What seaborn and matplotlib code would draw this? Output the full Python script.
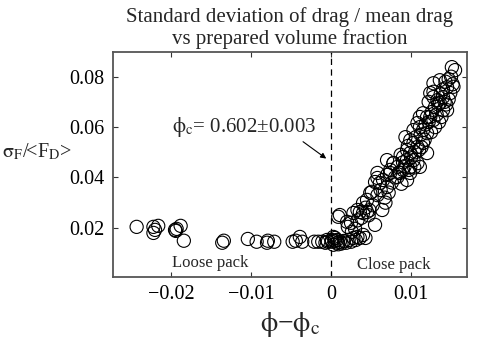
import numpy as np
import pandas as pd
import matplotlib
matplotlib.use("Agg")
import matplotlib.pyplot as plt
import seaborn as sns

# ---- data ----
x_loose = [-0.0243, -0.0222, -0.0220, -0.0222, -0.0216, -0.0195, -0.0194, -0.0188, -0.0193,
           -0.0184, -0.0136, -0.0134, -0.0104, -0.0093, -0.0080, -0.0079, -0.0071,
           -0.0048, -0.0039, -0.0036, -0.0044]
y_loose = [0.0204, 0.0204, 0.0192, 0.0180, 0.0208, 0.0192, 0.0188, 0.0208, 0.0196,
           0.0149, 0.0141, 0.0149, 0.0156, 0.0145, 0.0141, 0.0149, 0.0145,
           0.0145, 0.0164, 0.0145, 0.0149]

x_close = [
    # cluster near phi_c
    -0.0021, -0.0016, -0.0011, -0.0007, -0.0004, 0.0001, 0.0003, 0.0005, 0.0008, -0.0005,
    0.0001, 0.0005, 0.00075, 0.0011, 0.0013, 0.0016, 0.0019, 0.0022, 0.0025, 0.0028,
    0.0031, 0.0033, 0.0036, 0.0040, 0.0043, 0.0003, 0.0009,
    # rising onset
    0.0009, 0.0011, 0.0020, 0.0021, 0.0026, 0.0028, 0.0033, 0.0036, 0.0040, 0.0045,
    0.0040, 0.0045, 0.0049, 0.0051, 0.0055, 0.0030, 0.0033, 0.0038, 0.0043, 0.0048,
    0.0052, 0.0047, 0.0025,
    # middle
    0.0055, 0.0058, 0.0061, 0.0065, 0.0070, 0.0064, 0.0058, 0.0070, 0.0074, 0.0078,
    0.0083, 0.0090, 0.0095, 0.0058, 0.0062, 0.0067, 0.0072, 0.0076, 0.0080, 0.0085,
    0.0088, 0.0068,
    # upper middle
    0.0070, 0.0078, 0.0074, 0.0086, 0.0099, 0.0083, 0.0093, 0.0099, 0.0103, 0.0108,
    0.0115, 0.0120, 0.0095, 0.0099, 0.0090, 0.0103, 0.0108, 0.0111, 0.0099, 0.0090,
    0.0095, 0.0100, 0.0105, 0.0110, 0.0113, 0.0092, 0.0097, 0.0104, 0.0087, 0.0096,
    # top
    0.0108, 0.0111, 0.0115, 0.0103, 0.0120, 0.0115, 0.0120, 0.0111, 0.0124, 0.0128,
    0.0124, 0.0128, 0.0133, 0.0136, 0.0140, 0.0145, 0.0128, 0.0136, 0.0145, 0.0149,
    0.0140, 0.0151, 0.0155, 0.0118, 0.0122, 0.0126, 0.0130, 0.0132, 0.0134, 0.0137,
    0.0140, 0.0142, 0.0143, 0.0147, 0.0150, 0.0152, 0.0147, 0.0138, 0.0130, 0.0125,
    0.0112, 0.0106, 0.0117, 0.0122, 0.0128, 0.0153, 0.0144, 0.0135]
y_close = [
    0.0145, 0.0145, 0.0145, 0.0141, 0.0145, 0.0152, 0.0164, 0.0149, 0.0141, 0.0152,
    0.0145, 0.0160, 0.0152, 0.0145, 0.0138, 0.0148, 0.0141, 0.0152, 0.0145, 0.0160,
    0.0152, 0.0164, 0.0160, 0.0172, 0.0160, 0.0133, 0.0135,
    0.0244, 0.0251, 0.0224, 0.0204, 0.0184, 0.0259, 0.0271, 0.0263, 0.0259, 0.0263,
    0.0299, 0.0311, 0.0339, 0.0343, 0.0212, 0.0196, 0.0230, 0.0240, 0.0280, 0.0270,
    0.0290, 0.0250, 0.0220,
    0.0382, 0.0398, 0.0378, 0.0390, 0.0362, 0.0271, 0.0418, 0.0410, 0.0418, 0.0457,
    0.0442, 0.0430, 0.0390, 0.0330, 0.0350, 0.0320, 0.0340, 0.0380, 0.0400, 0.0420,
    0.0375, 0.0300,
    0.0469, 0.0457, 0.0430, 0.0418, 0.0418, 0.0402, 0.0560, 0.0548, 0.0537, 0.0521,
    0.0537, 0.0497, 0.0509, 0.0497, 0.0481, 0.0469, 0.0457, 0.0442, 0.0442, 0.0460,
    0.0470, 0.0480, 0.0500, 0.0510, 0.0520, 0.0445, 0.0430, 0.0440, 0.0490, 0.0525,
    0.0616, 0.0600, 0.0588, 0.0588, 0.0576, 0.0655, 0.0640, 0.0640, 0.0640, 0.0628,
    0.0735, 0.0719, 0.0707, 0.0695, 0.0667, 0.0667, 0.0774, 0.0786, 0.0758, 0.0735,
    0.0719, 0.0838, 0.0826, 0.0610, 0.0620, 0.0660, 0.0680, 0.0650, 0.0690, 0.0730,
    0.0750, 0.0700, 0.0780, 0.0790, 0.0800, 0.0770, 0.0710, 0.0640, 0.0600, 0.0580,
    0.0570, 0.0560, 0.0550, 0.0700, 0.0740, 0.0760, 0.0690, 0.0620]

x_ticks = [-0.02, -0.01, 0.0, 0.01]
x_tick_labels = ["\u22120.02", "\u22120.01", "0", "0.01"]
y_ticks = [0.02, 0.04, 0.06, 0.08]
y_tick_labels = ["0.02", "0.04", "0.06", "0.08"]

df = pd.DataFrame({"dphi": x_loose + x_close, "ratio": y_loose + y_close})

sns.set_theme(style="ticks")
plt.rcParams["font.family"] = ["Liberation Serif", "DejaVu Serif"]
plt.rcParams["mathtext.fontset"] = "stix"

fig = plt.figure(figsize=(4.81, 3.46), dpi=100)
ax = fig.add_axes([0.235, 0.1994, 0.736, 0.6503])

sns.scatterplot(data=df, x="dphi", y="ratio", ax=ax, marker="o", s=90,
                facecolor="none", edgecolor="black", linewidth=0.8, legend=False)

ax.set_xlim(-0.02725, 0.0170)
ax.set_ylim(0.0005, 0.0898)
ax.axvline(0, color="black", linestyle=(0, (5, 3.5)), linewidth=0.9)

ax.set_xticks(x_ticks)
ax.set_xticklabels(x_tick_labels)
ax.set_yticks(y_ticks)
ax.set_yticklabels(y_tick_labels)
ax.tick_params(direction="in", length=3.5, width=0.8, labelsize=14.5,
               top=True, right=True, colors="#333333", labelcolor="black", pad=6)
for sp in ax.spines.values():
    sp.set_color("#555555")
    sp.set_linewidth(1.3)

ax.set_xlabel("")
ax.set_ylabel("")
fig.text(0.603, 0.062, r"$\mathrm{\phi}$\u2212$\mathrm{\phi}_\mathrm{c}$".replace("\\u2212", "\u2212"),
         ha="center", va="center", fontsize=20)
fig.text(0.077, 0.56, r"$\mathrm{\sigma}_\mathrm{F}$/<F$_\mathrm{D}$>", ha="center", va="center", fontsize=14.5)

ax.set_title("Standard deviation of drag / mean drag\nvs prepared volume fraction",
             fontsize=15, pad=6, linespacing=1.1)

ax.text(-0.0199, 0.0600, r"$\mathrm{\phi}_\mathrm{c}$= 0.602" + "\u00b1" + "0.003",
        ha="left", va="center", fontsize=15)
ax.annotate("", xy=(-0.0006, 0.0475), xytext=(-0.0035, 0.0542),
            arrowprops=dict(arrowstyle="-|>", color="black", lw=0.8,
                            mutation_scale=8, shrinkA=0, shrinkB=0))
ax.text(-0.0151, 0.0061, "Loose pack", ha="center", va="center", fontsize=12)
ax.text(0.0078, 0.0053, "Close pack", ha="center", va="center", fontsize=12)

fig.savefig("out.png", dpi=100)
